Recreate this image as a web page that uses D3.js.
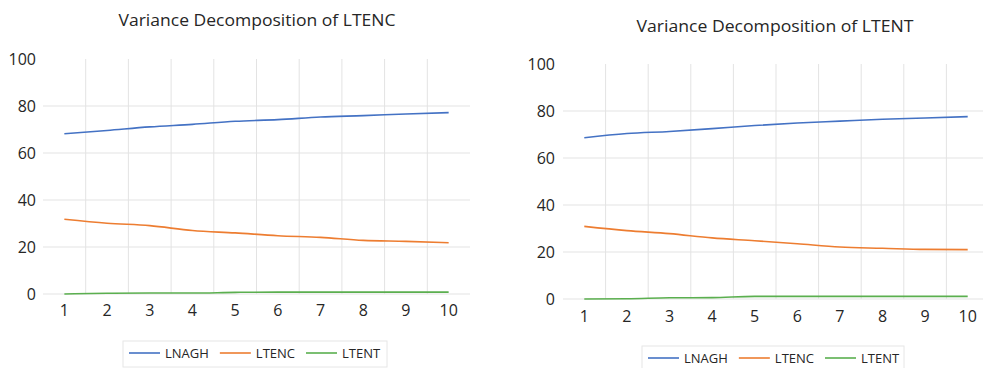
<!DOCTYPE html>
<html>
<head>
<meta charset="utf-8">
<script src="https://cdn.jsdelivr.net/npm/d3@7"></script>
<style>
  body { margin: 0; background: #fff; }
  svg { display: block; font-family: "Open Sans", "Noto Sans", sans-serif; }
</style>
</head>
<body>
<svg id="chart" width="983" height="368"></svg>
<script>
var periods = [1, 2, 3, 4, 5, 6, 7, 8, 9, 10];
var seriesNames = ["LNAGH", "LTENC", "LTENT"];
var yTicks = [0, 20, 40, 60, 80, 100];

// variance decomposition of LTENC
var ltencLnagh = [68.2, 69.6, 71.1, 72.2, 73.5, 74.2, 75.3, 75.9, 76.6, 77.2];
var ltencLtenc = [31.8, 30.1, 29.1, 27.0, 26.0, 24.8, 24.1, 22.8, 22.4, 21.8];
var ltencLtent = [0.0, 0.3, 0.4, 0.4, 0.7, 0.8, 0.8, 0.8, 0.8, 0.8];

// variance decomposition of LTENT
var ltentLnagh = [68.6, 70.4, 71.3, 72.5, 73.8, 74.9, 75.7, 76.5, 77.0, 77.6];
var ltentLtenc = [30.9, 29.1, 27.8, 26.0, 24.8, 23.5, 22.1, 21.6, 21.1, 21.0];
var ltentLtent = [0.0, 0.1, 0.5, 0.6, 1.1, 1.1, 1.1, 1.1, 1.1, 1.1];

var colors = ["#4472C4", "#ED7D31", "#5BAF4F"];
var gridColor = "#e3e3e3";
var textColor = "#262626";

var svg = d3.select("#chart");

function drawChart(opts) {
    var g = svg.append("g");

    var x = d3.scaleBand()
        .domain(periods)
        .range([opts.left, opts.right])
        .padding(0);

    var y = d3.scaleLinear()
        .domain([0, 100])
        .range([opts.bottom, opts.top]);

    var half = x.bandwidth() / 2;

    // horizontal grid (no line at 100)
    g.append("g")
        .selectAll("line")
        .data(yTicks.slice(0, -1))
        .enter().append("line")
        .attr("x1", opts.left)
        .attr("x2", opts.right)
        .attr("y1", d => y(d))
        .attr("y2", d => y(d))
        .style("stroke", gridColor)
        .style("stroke-width", 1);

    // vertical grid between categories
    g.append("g")
        .selectAll("line")
        .data(periods.slice(1))
        .enter().append("line")
        .attr("x1", d => x(d))
        .attr("x2", d => x(d))
        .attr("y1", y(100))
        .attr("y2", y(0))
        .style("stroke", gridColor)
        .style("stroke-width", 1);

    // y labels
    var yAxis = d3.axisLeft(y).tickValues(yTicks).tickSize(0).tickPadding(0);
    var ya = g.append("g")
        .attr("transform", "translate(" + opts.yLabelX + ",0)")
        .call(yAxis);
    ya.select(".domain").remove();
    ya.selectAll("text")
        .style("font-size", "16px")
        .style("font-family", "'Open Sans', sans-serif")
        .style("fill", textColor);

    // x labels
    var xAxis = d3.axisBottom(x).tickSize(0).tickPadding(0);
    var xa = g.append("g")
        .attr("transform", "translate(0," + opts.xLabelY + ")")
        .call(xAxis);
    xa.select(".domain").remove();
    xa.selectAll("text")
        .attr("dy", "0.35em")
        .attr("y", 0)
        .style("font-size", "16px")
        .style("font-family", "'Open Sans', sans-serif")
        .style("fill", textColor);

    var line = d3.line()
        .x((d, i) => x(periods[i]) + half)
        .y(d => y(d))
        .curve(d3.curveMonotoneX);

    g.selectAll(".serie")
        .data(opts.series)
        .enter().append("path")
        .attr("class", "serie")
        .attr("d", d => line(d))
        .style("fill", "none")
        .style("stroke", (d, i) => colors[i])
        .style("stroke-width", 1.6);

    // title
    g.append("text")
        .attr("x", opts.titleX)
        .attr("y", opts.titleY)
        .attr("text-anchor", "middle")
        .attr("textLength", 277)
        .attr("lengthAdjust", "spacingAndGlyphs")
        .style("font-size", "17px")
        .style("fill", textColor)
        .text(opts.title);

    // legend
    var lg = g.append("g").attr("transform", "translate(" + opts.legendX + "," + opts.legendY + ")");
    lg.append("rect")
        .attr("x", 0)
        .attr("y", 0)
        .attr("width", opts.legendW)
        .attr("height", 26)
        .style("fill", "#fff")
        .style("stroke", "#e6e6e6");

    var cx = 6;
    seriesNames.forEach(function(name, i) {
        lg.append("line")
            .attr("x1", cx)
            .attr("x2", cx + 31)
            .attr("y1", 12)
            .attr("y2", 12)
            .style("stroke", colors[i])
            .style("stroke-width", 1.6);
        var t = lg.append("text")
            .attr("x", cx + 36)
            .attr("y", 12)
            .attr("dy", "0.35em")
            .style("font-size", "13px")
            .style("fill", textColor)
            .text(name);
        cx += 36 + t.node().getComputedTextLength() + 11;
    });
}

drawChart({
    title: "Variance Decomposition of LTENC",
    titleX: 257, titleY: 26,
    left: 43, right: 470, top: 59, bottom: 294,
    yLabelX: 36, xLabelY: 310,
    legendX: 123, legendY: 341, legendW: 264,
    series: [ltencLnagh, ltencLtenc, ltencLtent]
});

drawChart({
    title: "Variance Decomposition of LTENT",
    titleX: 775, titleY: 32,
    left: 563, right: 989, top: 64, bottom: 299,
    yLabelX: 555, xLabelY: 316,
    legendX: 642, legendY: 346, legendW: 262,
    series: [ltentLnagh, ltentLtenc, ltentLtent]
});
</script>
</body>
</html>
